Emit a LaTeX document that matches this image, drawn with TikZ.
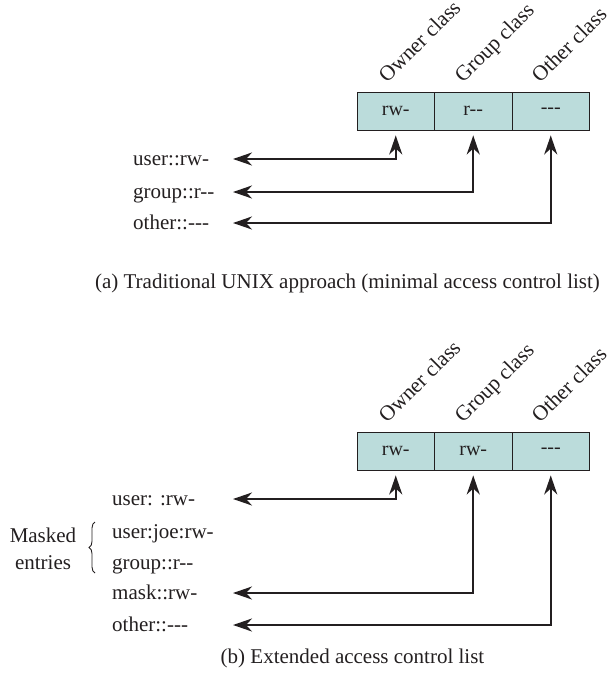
\documentclass[tikz,border=0pt]{standalone}
\usepackage{fontspec}
\setmainfont{Liberation Serif}
\usetikzlibrary{arrows.meta,decorations.pathreplacing}
\definecolor{cellfill}{RGB}{187,220,219}
\definecolor{ink}{RGB}{35,31,32}
\begin{document}
\begin{tikzpicture}[x=1pt,y=1pt,
  lbl/.style={font=\fontsize{21}{25}\selectfont, inner sep=0pt, anchor=base west, text=ink},
  cell/.style={draw=ink, line width=0.9pt, fill=cellfill, minimum width=77.5pt, minimum height=38pt, inner sep=0pt, font=\fontsize{20}{24}\selectfont, text=ink},
  cls/.style={font=\fontsize{21.5}{25}\selectfont, inner sep=0pt, anchor=base west, rotate=45, text=ink},
  conn/.style={draw=ink, line width=2.2pt, {Stealth[length=19pt,width=13pt,inset=6pt]}-{Stealth[length=19pt,width=13pt,inset=6pt]}, shorten <=5pt},
  capt/.style={font=\fontsize{21}{25}\selectfont, inner sep=0pt, text=ink}
]
\useasboundingbox (0,0) rectangle (614,-677);

% ---------- (a) ----------
\node[cell] (a1) at (395.75,-111) {rw-};
\node[cell] (a2) at (473.25,-111) {r{-}{-}};
\node[cell] (a3) at (550.75,-111) {{-}{-}{-}};
\node[cls] (ca1) at (387,-84) {Owner class};
\node[cls] (ca2) at (463,-84) {Group class};
\node[cls] (ca3) at (540,-84) {Other class};

\node[lbl] (ta1) at (133,-165) {user::rw-};
\node[lbl] (ta2) at (133,-198) {group::r{-}{-}};
\node[lbl] (ta3) at (133,-229) {other::{-}{-}{-}};
\coordinate (pa1) at (233,-159);
\coordinate (pa2) at (233,-192);
\coordinate (pa3) at (233,-223);
\draw[conn] (a1.south) |- (pa1);
\draw[conn] (a2.south) |- (pa2);
\draw[conn] (a3.south) |- (pa3);

\node[capt] (capa) at (347.5,-283) {(a) Traditional UNIX approach (minimal access control list)};

% ---------- (b) ----------
\node[cell] (b1) at (395.75,-451) {rw-};
\node[cell] (b2) at (473.25,-451) {rw-};
\node[cell] (b3) at (550.75,-451) {{-}{-}{-}};
\node[cls] (cb1) at (387,-424) {Owner class};
\node[cls] (cb2) at (463,-424) {Group class};
\node[cls] (cb3) at (540,-424) {Other class};

\node[lbl] (tb1) at (112,-505) {user: :rw-};
\node[lbl] (tb2) at (112,-538) {user:joe:rw-};
\node[lbl] (tb3) at (112,-569) {group::r{-}{-}};
\node[lbl] (tb4) at (112,-599) {mask::rw-};
\node[lbl] (tb5) at (112,-631) {other::{-}{-}{-}};
\coordinate (pb1) at (233,-499);
\coordinate (pb4) at (233,-593);
\coordinate (pb5) at (233,-625);
\draw[conn] (b1.south) |- (pb1);
\draw[conn] (b2.south) |- (pb4);
\draw[conn] (b3.south) |- (pb5);

\node[capt, align=center, font=\fontsize{21}{27}\selectfont] (mask) at (43,-549) {Masked\\entries};
\coordinate (br1) at (95,-573);
\coordinate (br2) at (95,-522);
\draw[ink, line width=0.9pt, decorate, decoration={brace, amplitude=6pt}] (br1) -- (br2);

\node[capt] (capb) at (352.5,-658) {(b) Extended access control list};
\end{tikzpicture}
\end{document}
